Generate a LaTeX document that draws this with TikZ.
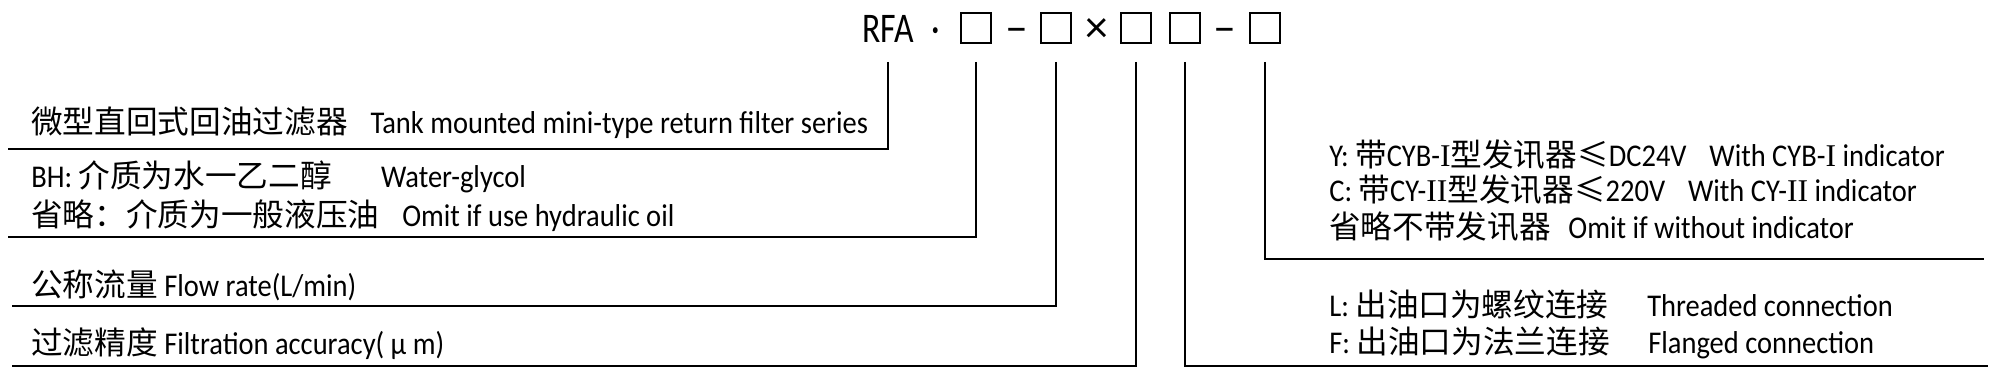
\documentclass[tikz,border=0pt]{standalone}
\usepackage{fontspec}
\setmainfont[FakeStretch=0.9]{Carlito}
\newfontfamily\cjk{Noto Sans CJK SC}
\newfontfamily\titlefont[FakeStretch=0.8]{Carlito}
\newfontfamily\signfont{Carlito}
\newfontfamily\romanfont{Liberation Serif}
\newcommand{\zh}[1]{{\cjk #1}}
\newcommand{\rom}[1]{{\romanfont #1}}

\begin{document}
\begin{tikzpicture}[x=0.01cm, y=-0.01cm, line width=0.75pt,
  every node/.style={inner sep=0pt, font=\fontsize{9pt}{11pt}\selectfont},
  codebox/.style={draw, line width=0.7pt, minimum size=0.3cm},
  sign/.style={anchor=base, font=\titlefont\fontsize{12pt}{14pt}\selectfont},
  joint/.style={anchor=base, font=\signfont\fontsize{13pt}{15pt}\selectfont},
  item/.style={anchor=base west}]
	\useasboundingbox (0,0) rectangle (2000,380);
	% model code
	\node[sign] (rfa) at (888,43) {RFA};
	\node[sign] (dot) at (936,43) {·};
	\node[codebox] (b1) at (976,28) {};
	\node[joint] (dash1) at (1017,43) {–};
	\node[codebox] (b2) at (1056,28) {};
	\node[joint] (times) at (1097,43) {×};
	\node[codebox] (b3) at (1136,28) {};
	\node[codebox] (b4) at (1185,28) {};
	\node[joint] (dash2) at (1225,43) {–};
	\node[codebox] (b5) at (1265,28) {};
	% line ends
	\coordinate (tick) at (0,62);
	\coordinate (seriesEnd) at (8,149);
	\coordinate (mediumEnd) at (8,237);
	\coordinate (flowEnd) at (12,306);
	\coordinate (accEnd) at (12,366);
	\coordinate (indEnd) at (1984,259);
	\coordinate (connEnd) at (1988,366);
	\draw (rfa |- tick) |- (seriesEnd);
	\draw (b1 |- tick) |- (mediumEnd);
	\draw (b2 |- tick) |- (flowEnd);
	\draw (b3 |- tick) |- (accEnd);
	\draw (b4 |- tick) |- (connEnd);
	\draw (b5 |- tick) |- (indEnd);
	% left texts
	\node[item] (series) at (30,134) {\zh{微型直回式回油过滤器}\hspace{6.5pt}Tank mounted mini-type return filter series};
	\node[item] (mediumBH) at (30,188) {BH: \zh{介质为水一乙二醇}\hspace{14pt}Water-glycol};
	\node[item] (mediumOil) at (30,227) {\zh{省略：介质为一般液压油}\hspace{6.5pt}Omit if use hydraulic oil};
	\node[item] (flow) at (30,297) {\zh{公称流量} Flow rate(L/min)};
	\node[item] (accuracy) at (30,355) {\zh{过滤精度} Filtration accuracy( μ m)};
	% right texts
	\node[item] (indY) at (1328,167) {Y: \zh{带}CYB-\rom{I}\zh{型发讯器≤}DC24V\hspace{6.5pt}With CYB-\rom{I} indicator};
	\node[item] (indC) at (1328,202) {C: \zh{带}CY-\rom{II}\zh{型发讯器≤}220V\hspace{6.5pt}With CY-\rom{II} indicator};
	\node[item] (indNone) at (1328,239) {\zh{省略不带发讯器}\hspace{5pt}Omit if without indicator};
	\node[item] (connL) at (1328,317) {L: \zh{出油口为螺纹连接}\hspace{11pt}Threaded connection};
	\node[item] (connF) at (1328,354) {F: \zh{出油口为法兰连接}\hspace{11pt}Flanged connection};
\end{tikzpicture}
\end{document}
